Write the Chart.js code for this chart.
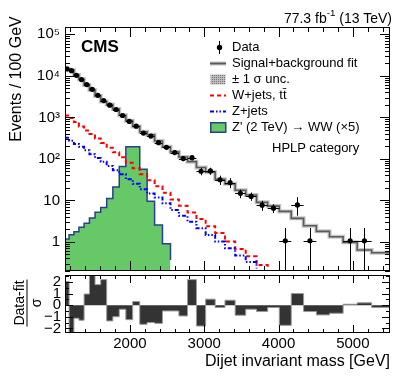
<!DOCTYPE html>
<html>
<head>
<meta charset="utf-8">
<script src="https://cdn.jsdelivr.net/npm/chart.js@4.4.0/dist/chart.umd.min.js"></script>
<style>
  body { margin: 0; background: #fff; }
  #wrap { position: relative; width: 407px; height: 392px; overflow: hidden; font-family: 'Liberation Sans', Arial, sans-serif; color: #000; }
  canvas { position: absolute; left: 0; }
  .t { position: absolute; white-space: nowrap; z-index: 2; }
  .leg { position: absolute; left: 232px; font-size: 13px; line-height: 13px; white-space: nowrap; z-index: 2; }
  .ico { position: absolute; left: 210px; z-index: 2; }
  .rot { position: absolute; transform: translate(-50%, -50%) rotate(-90deg); white-space: nowrap; z-index: 2; }
  sup { font-size: 70%; line-height: 0; position: relative; top: -0.1em; vertical-align: super; }
</style>
</head>
<body>
<div id="wrap">
  <canvas id="main" width="407" height="275" style="top:0"></canvas>
  <canvas id="pull" width="407" height="120" style="top:272px"></canvas>

  <div class="t" style="right:15px; top:11px; font-size:14px; line-height:14px;">77.3 fb<sup>-1</sup> (13 TeV)</div>
  <div class="t" style="left:81px; top:38px; font-size:17px; line-height:17px; font-weight:bold;">CMS</div>
  <div class="rot" style="left:16px; top:79px; font-size:16px; line-height:16px;">Events / 100 GeV</div>
  <div class="rot" style="left:27px; top:303px; font-size:14px; line-height:14px; text-align:center;">
    <div style="border-bottom:1px solid #000; padding:0 1px 1px;">Data-fit</div>
    <div style="padding-top:1px;">σ</div>
  </div>
  <div class="t" style="left:272px; top:141px; font-size:13px; line-height:13px;">HPLP category</div>

  <svg class="ico" style="top:41px" width="18" height="13"><line x1="9.5" y1="0" x2="9.5" y2="13" stroke="#000" stroke-width="1"/><circle cx="9.5" cy="6.5" r="2.7" fill="#000"/></svg>
  <div class="leg" style="top:40px">Data</div>
  <svg class="ico" style="top:57px" width="18" height="13"><line x1="0" y1="6.5" x2="16" y2="6.5" stroke="#c4c4c4" stroke-width="4"/><line x1="0" y1="6.5" x2="16" y2="6.5" stroke="#5a5a5a" stroke-width="1.8"/></svg>
  <div class="leg" style="top:56px">Signal+background fit</div>
  <svg class="ico" style="top:73px" width="18" height="13">
    <defs><pattern id="hatch" width="2" height="2" patternUnits="userSpaceOnUse"><rect width="2" height="2" fill="#bdbdbd"/><rect width="1" height="1" fill="#777"/></pattern></defs>
    <rect x="0.5" y="1.5" width="15" height="10" fill="url(#hatch)"/>
  </svg>
  <div class="leg" style="top:72px">± 1 σ unc.</div>
  <svg class="ico" style="top:89px" width="18" height="13"><line x1="0" y1="6.5" x2="16" y2="6.5" stroke="#ff0000" stroke-width="2" stroke-dasharray="4,3"/></svg>
  <div class="leg" style="top:88px">W+jets, tt̄</div>
  <svg class="ico" style="top:105px" width="18" height="13"><line x1="0" y1="6.5" x2="16" y2="6.5" stroke="#0000ff" stroke-width="2" stroke-dasharray="4,2,1.5,2,1.5,2"/></svg>
  <div class="leg" style="top:104px">Z+jets</div>
  <svg class="ico" style="top:121px" width="18" height="13"><rect x="0.75" y="1.75" width="15" height="9.5" fill="#66c866" stroke="#2b3f8f" stroke-width="1.5"/></svg>
  <div class="leg" style="top:120px">Z' (2 TeV) → WW (×5)</div>
</div>

<script>
// bin edges of the dijet mass spectrum (GeV)
const massEdges = [1126, 1181, 1246, 1313, 1383, 1455, 1530, 1607, 1687, 1770, 1856, 1945, 2037, 2132,
  2231, 2332, 2438, 2546, 2659, 2775, 2895, 3019, 3147, 3279, 3416, 3558, 3704, 3854, 4010, 4171,
  4337, 4509, 4686, 4869, 5058, 5253, 5500];

// events / 100 GeV, one value per bin (null = empty bin)
const dataValues = [14650, 13330, 10280, 8110, 6150, 4745, 3405, 2542, 1962, 1546, 1111, 797, 615, 418,
  354, 246, 190, 142, 102, 107, 50.4, 51.3, 31.5, 27, 14.8, 12.5, 7.7, 6.5, 1.07, 7.8,
  1.07, null, null, 1.07, 1.07, null];
const dataErrUp = [171, 163, 143, 127, 111, 97, 83, 71, 63, 56, 47, 40, 35, 29, 27, 22, 19.5, 17, 14, 14.6,
  10, 10, 8, 7.3, 3.5, 3, 2.1, 1.6, 1.1, 4.2, 1.1, null, null, 1.1, 1.1, null];
const dataErrDown = [171, 163, 143, 127, 111, 97, 83, 71, 63, 56, 47, 40, 35, 29, 27, 22, 19.5, 17, 14, 14.6,
  10, 10, 8, 7.3, 3.5, 2.7, 2.1, 1.5, 1.07, 3.5, 1.07, null, null, 1.07, 1.07, null];

const fitValues = [14300, 13700, 10420, 8250, 6060, 4540, 3290, 2420, 2030, 1590, 1123, 834, 607, 452,
  382, 270, 197, 148, 111, 86, 62, 48, 32.5, 25.1, 17.6, 13.5, 9.0, 7.3, 5.45, 3.7,
  2.46, 1.8, 1.34, 0.98, 0.64, 0.55];
const wjetsValues = [1110, 968, 776, 605, 485, 400, 312, 243, 185, 144, 109, 80.6, 59.5, 42.7,
  30.7, 22, 15.4, 10.5, 7.4, 5.15, 3.56, 2.38, 1.64, 1.02, 0.68, 0.45, 0.28, 0.22, 0, 0,
  0, 0, 0, 0, 0, 0];
const zjetsValues = [321, 272, 230, 195, 161, 129, 105, 86, 67.6, 53.3, 42.7, 32.4, 25.3, 18.7,
  14.7, 11.8, 8.6, 5.85, 4.27, 3.07, 2.13, 1.47, 1.02, 0.71, 0.47, 0.33, 0.23, 0, 0, 0,
  0, 0, 0, 0, 0, 0];
const signalValues = [1.18, 1.5, 1.77, 2.25, 2.81, 3.76, 5.16, 6.8, 11.2, 21.2, 65.4, 197, 197, 56.3,
  9.5, 2.56, 0.9, 0.37, 0, 0, 0, 0, 0, 0, 0, 0, 0, 0, 0, 0,
  0, 0, 0, 0, 0, 0];

// (data - fit) / sigma
const pullValues = [2.05, -2.8, -1.13, -1.3, 0.96, 2.8, 1.77, 2.2, -1.36, -1.0, -0.35, -1.25, 0.32, -1.65,
  -1.5, -1.57, -0.5, -0.5, -0.93, 2.2, -1.8, 0.52, -0.2, 0.43, -0.87, -0.35, -0.55, -0.2, -1.74, 1.0,
  -0.55, -0.84, -0.7, 0.08, 0.2, -0.2];

const yTickValues = [1, 10, 100, 1000, 10000, 100000];
const xTickValues = [2000, 3000, 4000, 5000];
const pullTickValues = [-2, -1, 0, 1, 2];

Chart.defaults.font.family = "'Liberation Sans', Arial, sans-serif";
Chart.defaults.color = '#000';

// step histogram: one point per left edge, plus the closing right edge
function histPoints(vals) {
  const pts = vals.map((v, i) => ({ x: massEdges[i], y: v }));
  pts.push({ x: massEdges[vals.length], y: vals[vals.length - 1] });
  return pts;
}

const dataPoints = [];
dataValues.forEach((v, i) => {
  if (v !== null) dataPoints.push({ x: (massEdges[i] + massEdges[i + 1]) / 2, y: v });
});

const supDigits = { 2: '²', 3: '³', 4: '⁴', 5: '⁵' };
function powLabel(v) {
  const e = Math.round(Math.log10(v));
  if (e === 0) return '1';
  if (e === 1) return '10';
  return '10' + supDigits[e];
}

// ROOT-like frame with inner ticks on all four sides
const rootFrame = {
  id: 'rootFrame',
  afterDraw(chart, args, opts) {
    const { ctx, chartArea: a, scales } = chart;
    const x = scales.x, y = scales.y;
    ctx.save();
    ctx.strokeStyle = '#000';
    ctx.lineWidth = 1;
    ctx.beginPath();
    for (let v = 1200; v <= x.max; v += 200) {
      const px = Math.round(x.getPixelForValue(v)) + 0.5;
      const len = v % 1000 === 0 ? opts.xMajor : opts.xMinor;
      ctx.moveTo(px, a.bottom); ctx.lineTo(px, a.bottom - len);
      ctx.moveTo(px, a.top); ctx.lineTo(px, a.top + len);
    }
    const yt = [];
    if (opts.log) {
      for (let e = -1; e <= 5; e++) {
        for (let m = 1; m <= 9; m++) {
          const v = m * Math.pow(10, e);
          if (v >= y.min && v <= y.max) yt.push([v, m === 1]);
        }
      }
    } else {
      for (let v = -2.5; v <= 2.5; v += 0.5) {
        if (v >= y.min && v <= y.max) yt.push([v, Number.isInteger(v)]);
      }
    }
    yt.forEach(([v, major]) => {
      const py = Math.round(y.getPixelForValue(v)) + 0.5;
      const len = major ? opts.yMajor : opts.yMinor;
      ctx.moveTo(a.left, py); ctx.lineTo(a.left + len, py);
      ctx.moveTo(a.right, py); ctx.lineTo(a.right - len, py);
    });
    ctx.stroke();
    ctx.strokeRect(a.left + 0.5, a.top + 0.5, a.right - a.left - 1, a.bottom - a.top - 1);
    ctx.restore();
  }
};

// data error bars: vertical stat. error, horizontal bin width
const errorBars = {
  id: 'errorBars',
  afterDatasetsDraw(chart) {
    const { ctx, chartArea: a, scales: { x, y } } = chart;
    ctx.save();
    ctx.beginPath();
    ctx.rect(a.left, a.top, a.right - a.left, a.bottom - a.top);
    ctx.clip();
    ctx.strokeStyle = '#000';
    ctx.lineWidth = 1;
    ctx.beginPath();
    dataValues.forEach((v, i) => {
      if (v === null) return;
      const cx = Math.round(x.getPixelForValue((massEdges[i] + massEdges[i + 1]) / 2)) + 0.5;
      const cy = Math.round(y.getPixelForValue(v)) + 0.5;
      const lo = v - dataErrDown[i];
      const yHi = y.getPixelForValue(v + dataErrUp[i]);
      const yLo = lo > 0 ? y.getPixelForValue(lo) : a.bottom;
      ctx.moveTo(cx, yHi); ctx.lineTo(cx, yLo);
      ctx.moveTo(x.getPixelForValue(massEdges[i]), cy);
      ctx.lineTo(x.getPixelForValue(massEdges[i + 1]), cy);
    });
    ctx.stroke();
    ctx.restore();
  }
};

const noPad = s => { s.paddingTop = 0; s.paddingBottom = 0; };

new Chart(document.getElementById('main'), {
  type: 'line',
  data: {
    datasets: [
      { label: 'Data', data: dataPoints, showLine: false, order: 1,
        pointRadius: 2.6, pointBackgroundColor: '#000', pointBorderWidth: 0 },
      { label: 'Signal+background fit', data: histPoints(fitValues), stepped: 'before', order: 2,
        borderColor: '#5a5a5a', borderWidth: 1.6, pointRadius: 0 },
      { label: 'unc', data: histPoints(fitValues), stepped: 'before', order: 3,
        borderColor: '#c8c8c8', borderWidth: 4, pointRadius: 0 },
      { label: 'Z+jets', data: histPoints(zjetsValues), stepped: 'before', order: 4,
        borderColor: '#0000ff', borderWidth: 2, borderDash: [4, 2, 1.5, 2, 1.5, 2], pointRadius: 0 },
      { label: 'W+jets', data: histPoints(wjetsValues), stepped: 'before', order: 5,
        borderColor: '#ff0000', borderWidth: 2, borderDash: [4, 3], pointRadius: 0 },
      { label: 'Signal', data: histPoints(signalValues), stepped: 'before', order: 6, fill: 'start',
        backgroundColor: '#66c866', borderColor: '#2b3f8f', borderWidth: 1.5, pointRadius: 0 }
    ]
  },
  options: {
    responsive: false,
    animation: false,
    layout: { padding: { top: 27, right: 17, bottom: 4, left: 0 } },
    plugins: {
      legend: { display: false },
      tooltip: { enabled: false },
      rootFrame: { log: true, xMajor: 10, xMinor: 5, yMajor: 10, yMinor: 5 }
    },
    scales: {
      x: { type: 'linear', min: 1126, max: 5500, display: false },
      y: {
        type: 'logarithmic', min: 0.2, max: 1.5e5,
        grid: { display: false, drawTicks: false },
        border: { display: false },
        afterBuildTicks: s => { s.ticks = yTickValues.map(v => ({ value: v })); },
        afterFit: s => { s.width = 65; noPad(s); },
        ticks: { font: { size: 15 }, padding: 5, autoSkip: false, callback: v => powLabel(v) }
      }
    }
  },
  plugins: [rootFrame, errorBars]
});

new Chart(document.getElementById('pull'), {
  type: 'line',
  data: {
    datasets: [
      { label: 'pull', data: histPoints(pullValues), stepped: 'before', fill: 'origin',
        backgroundColor: '#333333', borderColor: '#9a9a9a', borderWidth: 1, pointRadius: 0 }
    ]
  },
  options: {
    responsive: false,
    animation: false,
    layout: { padding: { top: 3, right: 17, bottom: 21, left: 0 } },
    plugins: {
      legend: { display: false },
      tooltip: { enabled: false },
      rootFrame: { log: false, xMajor: 8, xMinor: 4, yMajor: 8, yMinor: 4 }
    },
    scales: {
      x: {
        type: 'linear', min: 1126, max: 5500,
        grid: { display: false, drawTicks: false },
        border: { display: false },
        afterBuildTicks: s => { s.ticks = xTickValues.map(v => ({ value: v })); },
        afterFit: s => { s.height = 38; },
        ticks: { font: { size: 15, lineHeight: 1 }, padding: 3, maxRotation: 0, autoSkip: false,
          callback: v => String(v) },
        title: { display: true, text: 'Dijet invariant mass [GeV]', align: 'end',
          font: { size: 16 }, padding: { top: 0, bottom: 0 } }
      },
      y: {
        type: 'linear', min: -2.4, max: 2.6,
        grid: { display: false, drawTicks: false },
        border: { display: false },
        afterBuildTicks: s => { s.ticks = pullTickValues.map(v => ({ value: v })); },
        afterFit: s => { s.width = 65; noPad(s); },
        ticks: { font: { size: 15, lineHeight: 1 }, padding: 4, autoSkip: false,
          callback: v => (v < 0 ? '\u2212' + Math.abs(v) : String(v)) }
      }
    }
  },
  plugins: [rootFrame]
});
</script>
</body>
</html>
